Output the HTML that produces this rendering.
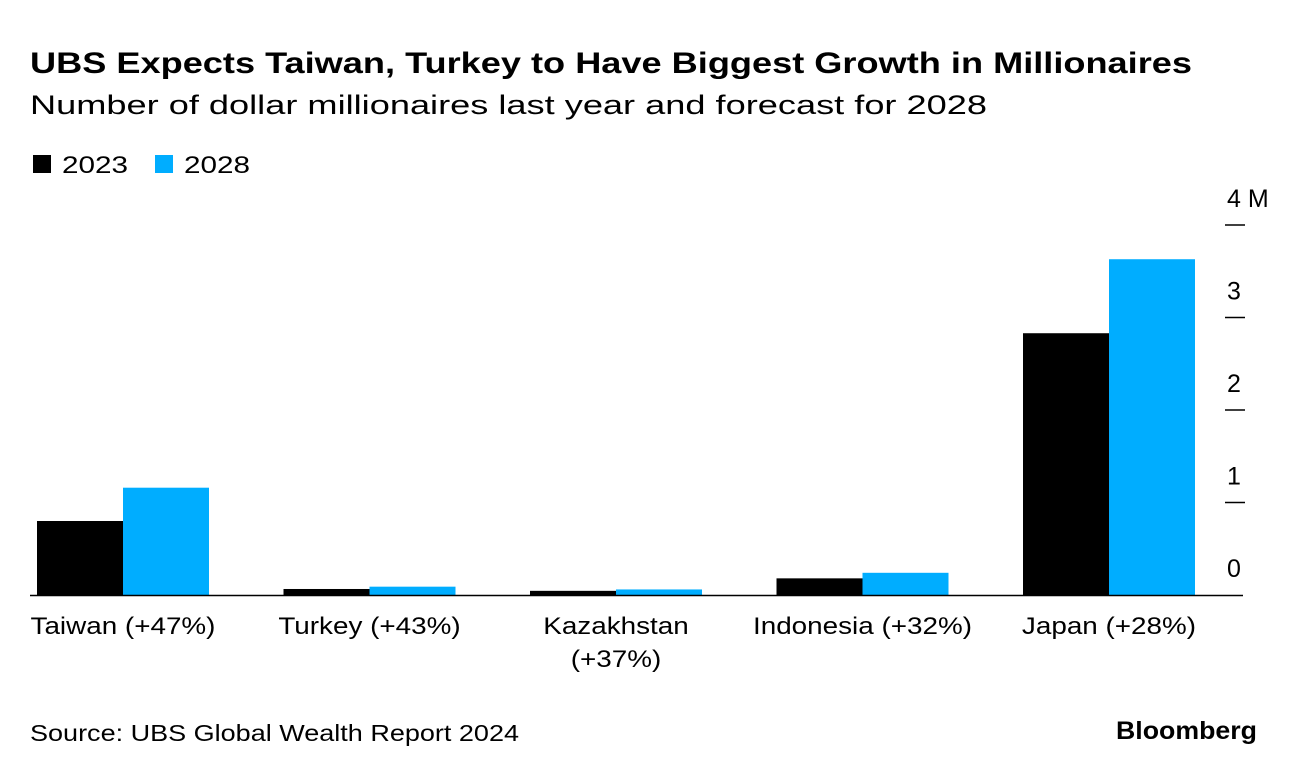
<!DOCTYPE html>
<html><head><meta charset="utf-8"><style>
body{margin:0;width:1296px;height:774px;background:#fff;font-family:"Liberation Sans",sans-serif;overflow:hidden}
</style></head><body>
<svg width="1296" height="774" xmlns="http://www.w3.org/2000/svg" font-family="Liberation Sans, sans-serif" id="chart">
<text x="30" y="73" font-size="30" font-weight="bold" fill="#000" textLength="1162" lengthAdjust="spacingAndGlyphs">UBS Expects Taiwan, Turkey to Have Biggest Growth in Millionaires</text>
<text x="30" y="114" font-size="27" fill="#000" textLength="957" lengthAdjust="spacingAndGlyphs">Number of dollar millionaires last year and forecast for 2028</text>
<g>
<rect x="33" y="155" width="18" height="18" fill="#000"/>
<text x="62" y="173" font-size="24" textLength="66" lengthAdjust="spacingAndGlyphs">2023</text>
<rect x="155" y="155" width="18" height="18" fill="#00adff"/>
<text x="184" y="173" font-size="24" textLength="66" lengthAdjust="spacingAndGlyphs">2028</text>
</g>
<g id="bars"></g>
<g id="axis"></g>
<text x="30" y="741" font-size="23" textLength="489" lengthAdjust="spacingAndGlyphs">Source: UBS Global Wealth Report 2024</text>
<text x="1116" y="739" font-size="25" font-weight="bold" textLength="141" lengthAdjust="spacingAndGlyphs">Bloomberg</text>
</svg>
<script>
const categories=["Taiwan (+47%)","Turkey (+43%)","Kazakhstan|(+37%)","Indonesia (+32%)","Japan (+28%)"];
const values2023=[0.80,0.065,0.045,0.18,2.83];
const values2028=[1.16,0.09,0.06,0.24,3.63];
const ticks=[0,1,2,3,4];
const tickLabels=["0","1","2","3","4 M"];
const NS="http://www.w3.org/2000/svg";
const y0=595,pxPer=92.5,x0=37,step=246.5,bw=86;
const y=v=>y0-v*pxPer;
const bars=document.getElementById('bars'),axis=document.getElementById('axis');
function mk(t,a,p){const e=document.createElementNS(NS,t);for(const k in a)e.setAttribute(k,a[k]);p.appendChild(e);return e;}
function widen(t,f){const w=t.getComputedTextLength();t.setAttribute('textLength',w*f);t.setAttribute('lengthAdjust','spacingAndGlyphs');}
categories.forEach((c,i)=>{
 const gx=x0+i*step;
 const b1=mk('rect',{x:gx,y:y(values2023[i]),width:bw,height:values2023[i]*pxPer,fill:'#000'},bars);
 
 
 const b2=mk('rect',{x:gx+bw,y:y(values2028[i]),width:bw,height:values2028[i]*pxPer,fill:'#00adff'},bars);
 
 
 c.split('|').forEach((ln,j)=>{
  const t=mk('text',{x:gx+bw,y:634+j*33,'font-size':24,'text-anchor':'middle'},axis);
  t.textContent=ln;
  
  
  widen(t,1.16);
 });
});
const base=mk('line',{x1:30,x2:1243,y1:y0+0.5,y2:y0+0.5,stroke:'#000','stroke-width':1.5},axis);


ticks.forEach((v,i)=>{
 if(v>0){const l=mk('line',{x1:1225,x2:1245,y1:y(v),y2:y(v),stroke:'#000','stroke-width':1.5},axis);
 
 }
 const t=mk('text',{x:1227,y:y(v)-18,'font-size':25},axis);
 t.textContent=tickLabels[i];
 
 
});
</script>
</body></html>
